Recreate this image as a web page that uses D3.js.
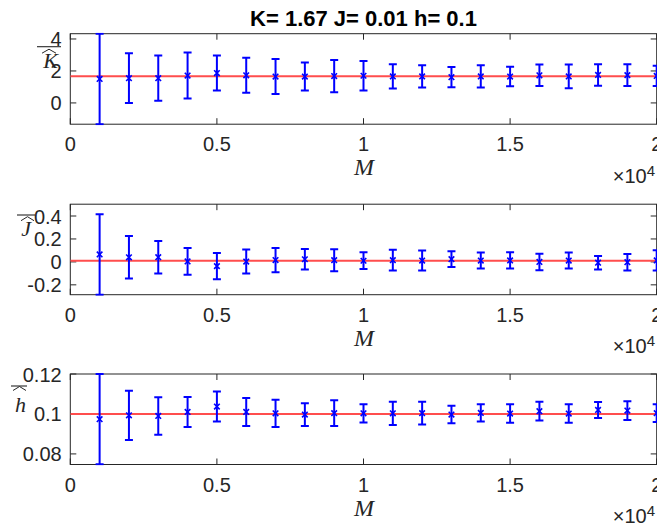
<!DOCTYPE html>
<html>
<head>
<meta charset="utf-8">
<script src="https://cdn.jsdelivr.net/npm/d3@7"></script>
<style>
  html, body { margin: 0; padding: 0; background: #fff; }
  svg { display: block; }
</style>
</head>
<body>
<svg id="chart" width="657" height="529"></svg>
<script>
// Sample sizes M (number of samples)
const sampleSizes = [1000, 2000, 3000, 4000, 5000, 6000, 7000, 8000, 9000, 10000,
                     11000, 12000, 13000, 14000, 15000, 16000, 17000, 18000, 19000, 20000];

// Estimated K: mean and error half-width
const kMean = [1.50, 1.55, 1.55, 1.71, 1.87, 1.73, 1.65, 1.65, 1.68, 1.70,
               1.66, 1.66, 1.61, 1.66, 1.65, 1.73, 1.66, 1.75, 1.74, 1.69];
const kErr  = [2.83, 1.55, 1.41, 1.44, 1.10, 1.10, 1.09, 0.88, 1.01, 0.93,
               0.76, 0.70, 0.63, 0.70, 0.61, 0.67, 0.74, 0.67, 0.68, 0.63];

// Estimated J
const jMean = [0.065, 0.040, 0.041, 0.004, -0.037, 0.003, 0.016, 0.023, 0.015, 0.010,
               0.015, 0.012, 0.024, 0.012, 0.013, 0.000, 0.012, -0.007, -0.003, 0.013];
const jErr  = [0.351, 0.185, 0.142, 0.117, 0.114, 0.104, 0.106, 0.089, 0.096, 0.073,
               0.090, 0.087, 0.069, 0.069, 0.070, 0.072, 0.069, 0.059, 0.072, 0.088];

// Estimated h
const hMean = [0.0974, 0.0993, 0.0990, 0.1010, 0.1037, 0.1010, 0.1003, 0.0997, 0.1004, 0.1003,
               0.1003, 0.1004, 0.0997, 0.1005, 0.1002, 0.1014, 0.1002, 0.1020, 0.1017, 0.1004];
const hErr  = [0.0226, 0.0123, 0.0094, 0.0075, 0.0075, 0.0070, 0.0068, 0.0057, 0.0064, 0.0046,
               0.0058, 0.0057, 0.0044, 0.0043, 0.0046, 0.0047, 0.0046, 0.0040, 0.0047, 0.0044];

// True parameter values
const trueK = 1.67, trueJ = 0.01, trueH = 0.1;

// Axis ticks
const xTicks = [0, 5000, 10000, 15000, 20000];
const kTicks = [0, 2, 4];
const jTicks = [-0.2, 0, 0.2, 0.4];
const hTicks = [0.08, 0.1, 0.12];

const titleText = "K= 1.67 J= 0.01 h= 0.1";

const svg = d3.select("#chart");
const left = 70.3, right = 656.7, panelH = 90.5;
const axisColor = "#262626";
const tickFont = "'Liberation Sans', Arial, Helvetica, sans-serif";
const mathFont = "'Liberation Serif', 'Times New Roman', serif";

const x = d3.scaleLinear().domain([0, 20000]).range([left, right]);

const panels = [
  { top: 33.7,  domain: [-1.33, 4.33],    ticks: kTicks, fmt: d3.format("d"), mean: kMean, err: kErr, truth: trueK,
    sym: "K", symEnd: 58, symBase: 34, hat: [42, 56], hatY: 19.5, bar: [37, 61], barY: 13 },
  { top: 204.2, domain: [-0.286, 0.503], ticks: jTicks, fmt: v => v === 0 ? "0" : d3.format(".1f")(v).replace("\u2212", "-"), mean: jMean, err: jErr, truth: trueJ,
    sym: "J", symEnd: 31, symBase: 32, hat: [21, 34], hatY: 16.5, bar: [17, 35], barY: 10.8 },
  { top: 374,   domain: [0.0747, 0.12],  ticks: hTicks, fmt: v => String(+v.toFixed(2)), mean: hMean, err: hErr, truth: trueH,
    sym: "h", symEnd: 26, symBase: 37.5, hat: [13, 26], hatY: 16.5, bar: [11, 27], barY: 12 }
];

panels.forEach((p, pi) => {
  const bottom = p.top + panelH;
  const y = d3.scaleLinear().domain(p.domain).range([bottom, p.top]);
  const g = svg.append("g");

  const clipId = "clip" + pi;
  svg.append("clipPath").attr("id", clipId)
    .append("rect").attr("x", left).attr("y", p.top - 1).attr("width", right - left + 2).attr("height", panelH + 2);

  // axes box
  g.append("rect")
    .attr("x", left).attr("y", p.top)
    .attr("width", right - left).attr("height", panelH)
    .attr("fill", "none").attr("stroke", axisColor).attr("stroke-width", 1);

  // x ticks (inside, bottom and top)
  const tl = 6;
  xTicks.forEach(t => {
    g.append("line").attr("x1", x(t)).attr("x2", x(t)).attr("y1", bottom).attr("y2", bottom - tl)
      .attr("stroke", axisColor).attr("stroke-width", 1);
    g.append("line").attr("x1", x(t)).attr("x2", x(t)).attr("y1", p.top).attr("y2", p.top + tl)
      .attr("stroke", axisColor).attr("stroke-width", 1);
    g.append("text").attr("x", x(t)).attr("y", bottom + 27)
      .attr("text-anchor", "middle").attr("font-family", tickFont).attr("font-size", 20)
      .attr("fill", axisColor).text(d3.format("~g")(t / 10000));
  });

  // y ticks (inside, left and right)
  p.ticks.forEach(t => {
    g.append("line").attr("x1", left).attr("x2", left + tl).attr("y1", y(t)).attr("y2", y(t))
      .attr("stroke", axisColor).attr("stroke-width", 1);
    g.append("line").attr("x1", right).attr("x2", right - tl).attr("y1", y(t)).attr("y2", y(t))
      .attr("stroke", axisColor).attr("stroke-width", 1);
    g.append("text").attr("x", 61.7).attr("y", y(t) + 7.5)
      .attr("text-anchor", "end").attr("font-family", tickFont).attr("font-size", 20)
      .attr("fill", axisColor).text(p.fmt(t));
  });

  const plot = g.append("g").attr("clip-path", `url(#${clipId})`);

  // true value line
  plot.append("line")
    .attr("x1", x(0)).attr("x2", x(20000))
    .attr("y1", y(p.truth)).attr("y2", y(p.truth))
    .attr("stroke", "#ff4d4d").attr("stroke-width", 2);

  // error bars
  const data = sampleSizes.map((m, i) => ({ m, v: p.mean[i], e: p.err[i] }));
  const cap = 4;
  const eb = plot.selectAll("g.eb").data(data).enter().append("g").attr("class", "eb")
    .attr("stroke", "#0000ff").attr("stroke-width", 2).attr("fill", "none");
  eb.append("line").attr("x1", d => x(d.m)).attr("x2", d => x(d.m))
    .attr("y1", d => y(d.v - d.e)).attr("y2", d => y(d.v + d.e));
  eb.append("line").attr("x1", d => x(d.m) - cap).attr("x2", d => x(d.m) + cap)
    .attr("y1", d => y(d.v + d.e)).attr("y2", d => y(d.v + d.e));
  eb.append("line").attr("x1", d => x(d.m) - cap).attr("x2", d => x(d.m) + cap)
    .attr("y1", d => y(d.v - d.e)).attr("y2", d => y(d.v - d.e));
  const ms = 2.8;
  eb.append("path").attr("stroke-width", 1.6)
    .attr("d", d => {
      const cx = x(d.m), cy = y(d.v);
      return `M${cx - ms},${cy - ms}L${cx + ms},${cy + ms}M${cx - ms},${cy + ms}L${cx + ms},${cy - ms}`;
    });

  // x label
  g.append("text").attr("x", 364).attr("y", bottom + 51)
    .attr("text-anchor", "middle").attr("font-family", mathFont).attr("font-style", "italic")
    .attr("font-size", 24).attr("fill", axisColor).text("M");

  // x exponent
  const ex = g.append("text").attr("x", 655).attr("y", bottom + 58.5)
    .attr("text-anchor", "end").attr("font-family", tickFont).attr("font-size", 20).attr("fill", axisColor);
  ex.append("tspan").text("\u00d710");
  ex.append("tspan").attr("font-size", 15).attr("dy", -7).text("4");

  // y label: overline of a wide hat over the symbol
  const lg = g.append("g");
  lg.append("text").attr("x", p.symEnd).attr("y", p.top + p.symBase)
    .attr("text-anchor", "end").attr("font-family", mathFont).attr("font-style", "italic")
    .attr("font-size", 22).attr("fill", axisColor).text(p.sym);
  const hy = p.top + p.hatY;
  lg.append("path")
    .attr("d", `M${p.hat[0]},${hy}L${(p.hat[0] + p.hat[1]) / 2},${hy - 4}L${p.hat[1]},${hy}`)
    .attr("fill", "none").attr("stroke", axisColor).attr("stroke-width", 1);
  lg.append("line").attr("x1", p.bar[0]).attr("x2", p.bar[1])
    .attr("y1", p.top + p.barY).attr("y2", p.top + p.barY)
    .attr("stroke", axisColor).attr("stroke-width", 1.1);
});

// title
svg.append("text").attr("x", 363.5).attr("y", 26)
  .attr("text-anchor", "middle").attr("font-family", tickFont).attr("font-weight", "bold")
  .attr("font-size", 22).attr("fill", "#000").text(titleText);
</script>
</body>
</html>
